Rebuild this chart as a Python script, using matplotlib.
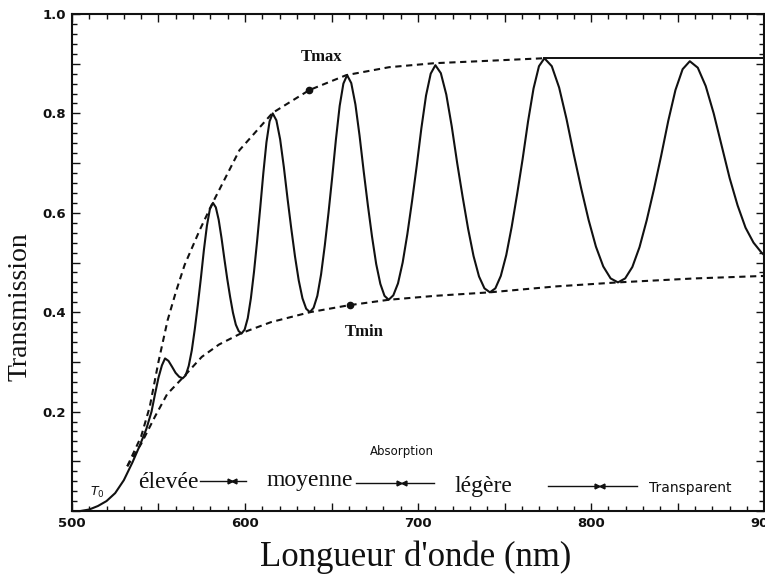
import matplotlib
matplotlib.use("Agg")
import matplotlib.pyplot as plt
from matplotlib.ticker import MultipleLocator, FuncFormatter

# Measured transmission spectrum of the thin film (wavelength in nm, T)
wavelength = [505, 510, 515, 520, 525, 530, 535, 539, 543, 546, 548, 550, 552, 553.8,
              555.8, 557.9, 559.9, 562, 564,
              565.75, 567.5, 569.25, 571, 572.75, 574.5, 576.25, 578, 579.75, 581.5,
              583.15, 584.8, 586.45, 588.1, 589.75, 591.4, 593.05, 594.7, 596.35, 598,
              599.8, 601.6, 603.4, 605.2, 607, 608.8, 610.6, 612.4, 614.2, 616,
              618.15, 620.3, 622.45, 624.6, 626.75, 628.9, 631.05, 633.2, 635.35, 637.5,
              639.65, 641.8, 643.95, 646.1, 648.25, 650.4, 652.55, 654.7, 656.85, 659,
              661.4, 663.8, 666.2, 668.6, 671, 673.4, 675.8, 678.2, 680.6, 683,
              685.7, 688.4, 691.1, 693.8, 696.5, 699.2, 701.9, 704.6, 707.3, 710,
              713.15, 716.3, 719.45, 722.6, 725.75, 728.9, 732.05, 735.2, 738.35, 741.5,
              744.65, 747.8, 750.95, 754.1, 757.25, 760.4, 763.55, 766.7, 769.85, 773,
              777.25, 781.5, 785.75, 790, 794.25, 798.5, 802.75, 807, 811.25, 815.5,
              819.65, 823.8, 827.95, 832.1, 836.25, 840.4, 844.55, 848.7, 852.85, 857,
              861.6, 866.2, 870.8, 875.4, 880, 884.6, 889.2, 893.8, 898.4, 900]
transmission = [0.0, 0.003, 0.01, 0.02, 0.036, 0.062, 0.098, 0.13, 0.165, 0.2, 0.235,
                0.268, 0.293, 0.307,
                0.302, 0.290, 0.278, 0.270, 0.267,
                0.273, 0.292, 0.323, 0.366, 0.415, 0.468, 0.525, 0.574, 0.608, 0.620,
                0.611, 0.586, 0.549, 0.507, 0.467, 0.431, 0.399, 0.375, 0.362, 0.357,
                0.365, 0.388, 0.428, 0.481, 0.543, 0.610, 0.680, 0.742, 0.784, 0.800,
                0.786, 0.748, 0.692, 0.628, 0.568, 0.512, 0.464, 0.428, 0.407, 0.400,
                0.409, 0.433, 0.476, 0.534, 0.600, 0.672, 0.748, 0.815, 0.860, 0.877,
                0.861, 0.818, 0.755, 0.683, 0.615, 0.552, 0.497, 0.457, 0.433, 0.425,
                0.434, 0.458, 0.500, 0.557, 0.623, 0.694, 0.770, 0.836, 0.880, 0.897,
                0.881, 0.838, 0.774, 0.700, 0.632, 0.568, 0.513, 0.472, 0.448, 0.440,
                0.448, 0.473, 0.515, 0.572, 0.638, 0.708, 0.784, 0.850, 0.895, 0.911,
                0.895, 0.852, 0.789, 0.717, 0.649, 0.586, 0.532, 0.492, 0.468, 0.460,
                0.468, 0.491, 0.531, 0.585, 0.647, 0.714, 0.785, 0.847, 0.889, 0.905,
                0.892, 0.855, 0.800, 0.735, 0.670, 0.615, 0.570, 0.540, 0.520, 0.515]

# Upper envelope through the maxima (dashed part, then flat solid part)
tmax_wl = [532, 540, 545, 550, 555.3, 560, 565.1, 573.8, 581.3, 596.8, 615.9, 637.2,
           658.5, 683.3, 709.2, 735.2, 772.6]
tmax_val = [0.09, 0.15, 0.21, 0.3, 0.384, 0.44, 0.495, 0.565, 0.62, 0.726, 0.801, 0.847,
            0.877, 0.893, 0.901, 0.905, 0.911]
tmax_flat_wl = [772.6, 900]
tmax_flat_val = [0.911, 0.911]

# Lower envelope through the minima
tmin_wl = [532, 540, 548, 555, 564, 575, 585, 598, 615, 637.5, 660, 683, 710, 741.5,
           780, 815.5, 860, 900]
tmin_val = [0.09, 0.135, 0.19, 0.235, 0.268, 0.31, 0.335, 0.358, 0.38, 0.40, 0.414,
            0.425, 0.433, 0.44, 0.452, 0.46, 0.468, 0.473]

# Marked points on each envelope
tmax_point = (637.2, 0.847)
tmin_point = (660.7, 0.414)

# Absorption regimes along the bottom of the graph
regime_labels = ["élevée", "moyenne", "légère"]
regime_x = [555.5, 637.5, 737.5]
regime_y = [0.058, 0.061, 0.050]
bar_start = [573.8, 664.3, 775.0]
bar_end = [600.5, 709.0, 826.5]
bar_mark = [592.5, 690.5, 805.0]
bar_y = [0.061, 0.057, 0.050]

fig = plt.figure(figsize=(7.65, 5.84), dpi=100)
ax = fig.add_axes([0.094, 0.125, 0.905, 0.851])

ink = "#111111"
ax.plot(wavelength, transmission, color=ink, lw=1.5, solid_joinstyle="round")
ax.plot(tmax_wl, tmax_val, color=ink, lw=1.5, ls=(0, (3, 2.2)))
ax.plot(tmax_flat_wl, tmax_flat_val, color=ink, lw=1.4)
ax.plot(tmin_wl, tmin_val, color=ink, lw=1.5, ls=(0, (3, 2.2)))
ax.plot(*tmax_point, "o", color=ink, ms=4.5)
ax.plot(*tmin_point, "o", color=ink, ms=4.5)

serif = "Liberation Serif"
ax.text(644.5, 0.913, "Tmax", family=serif, weight="bold", fontsize=12,
        ha="center", va="center", color=ink)
ax.text(669, 0.360, "Tmin", family=serif, weight="bold", fontsize=12,
        ha="center", va="center", color=ink)
ax.text(514.5, 0.037, r"$T_0$", fontsize=9, ha="center", va="center", color=ink)

ax.text(690.5, 0.119, "Absorption", fontsize=8.5, ha="center", va="center", color=ink)
for lab, x, y in zip(regime_labels, regime_x, regime_y):
    ax.text(x, y, lab, family=serif, fontsize=17, ha="center", va="center", color=ink)
ax.text(857.5, 0.046, "Transparent", fontsize=10, ha="center", va="center", color=ink)
for x0, x1, xm, y in zip(bar_start, bar_end, bar_mark, bar_y):
    ax.plot([x0, x1], [y, y], color=ink, lw=1.0)
    ax.plot([xm - 1.4], [y], marker=">", color=ink, ms=3.5, ls="none")
    ax.plot([xm + 1.4], [y], marker="<", color=ink, ms=3.5, ls="none")

ax.set_xlim(500, 900)
ax.set_ylim(0, 1.0)
ax.xaxis.set_major_locator(MultipleLocator(50))
ax.xaxis.set_minor_locator(MultipleLocator(10))
ax.yaxis.set_major_locator(MultipleLocator(0.1))
ax.yaxis.set_minor_locator(MultipleLocator(0.02))
ax.xaxis.set_major_formatter(FuncFormatter(
    lambda v, p: f"{v:.0f}" if abs(v % 100) < 1e-6 else ""))
ax.yaxis.set_major_formatter(FuncFormatter(
    lambda v, p: f"{v:.1f}" if (v > 0.05 and round(v * 10) % 2 == 0) else ""))
ax.tick_params(which="both", direction="in", top=True, right=True, color=ink,
               labelsize=9.5, labelcolor=ink, width=1.0)
ax.tick_params(which="major", length=6, pad=4)
ax.tick_params(which="minor", length=3.5)
for lab in ax.get_xticklabels() + ax.get_yticklabels():
    lab.set_fontweight("bold")
for s in ax.spines.values():
    s.set_linewidth(1.5)
    s.set_color(ink)

fig.text(20 / 765, 1 - 307 / 584, "Transmission", family=serif, fontsize=20,
         rotation=90, ha="center", va="center", color=ink)
fig.text(416 / 765, 1 - 557 / 584, "Longueur d'onde (nm)", family=serif, fontsize=25,
         ha="center", va="center", color=ink)

fig.savefig("out.png", dpi=100)
